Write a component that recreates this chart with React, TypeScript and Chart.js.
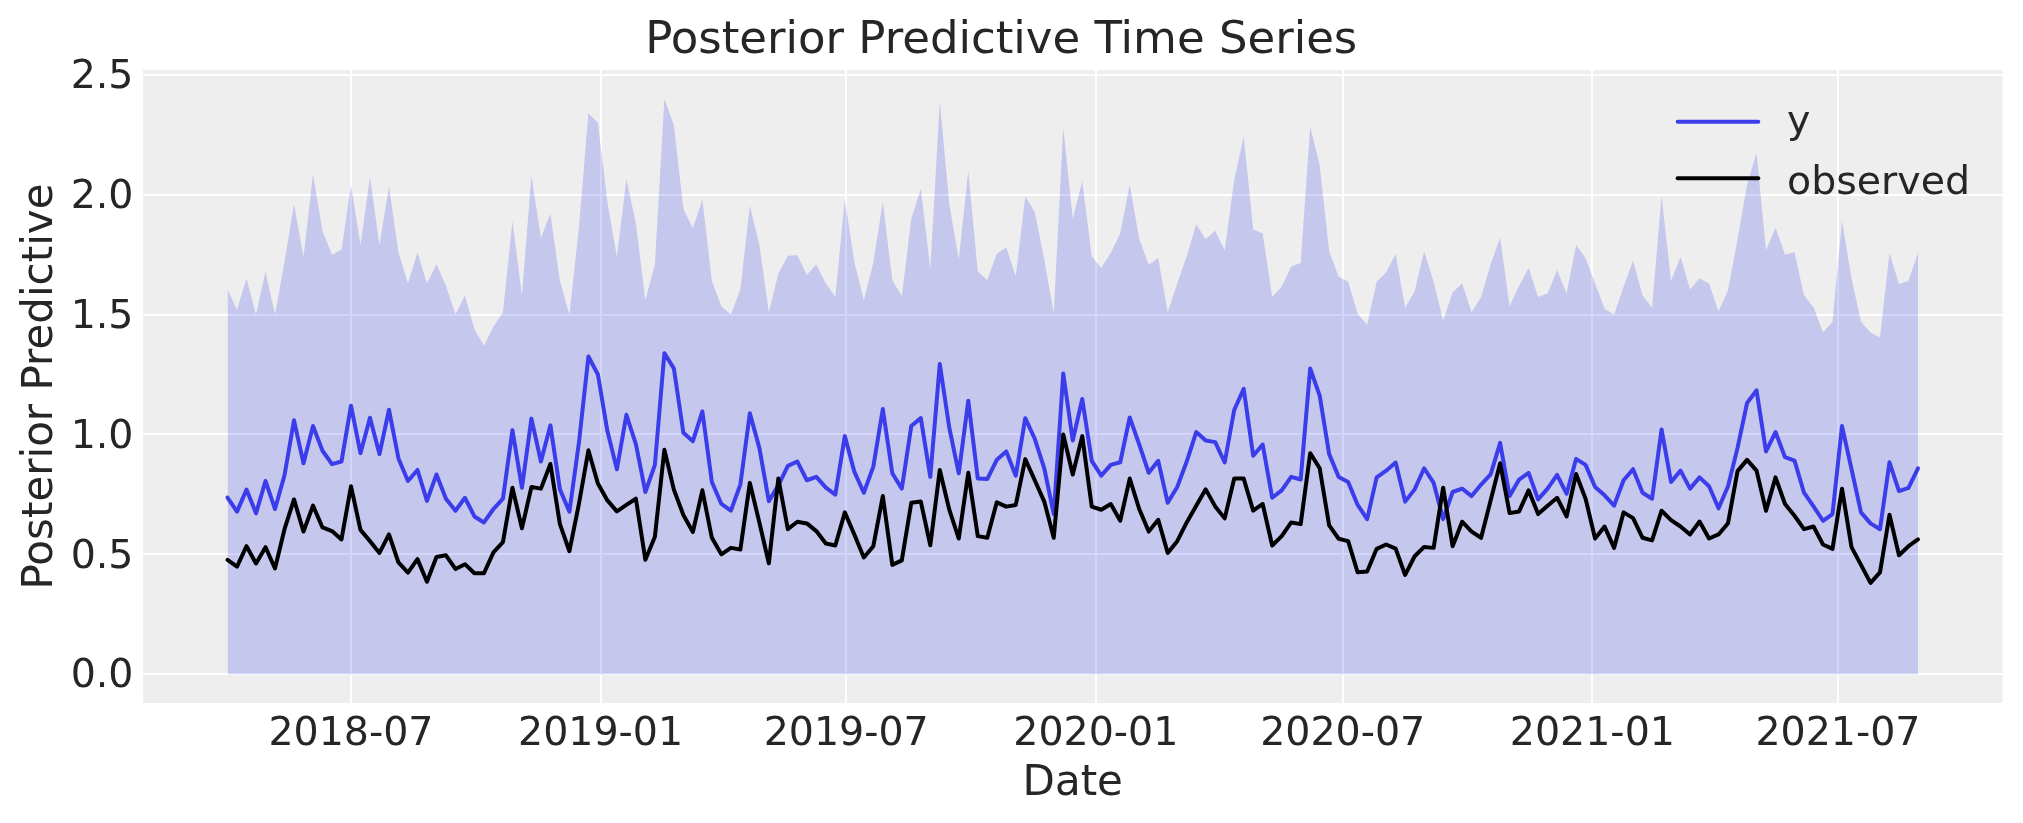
import React, { useEffect, useRef } from "react";
import { Chart, registerables } from "chart.js";

Chart.register(...registerables);

// ---- data ----
const startDate = "2018-04-01"; // first weekly observation
const xTickLabels = ["2018-07", "2019-01", "2019-07", "2020-01", "2020-07", "2021-01", "2021-07"];
const yTickValues = [0, 0.5, 1.0, 1.5, 2.0, 2.5];

const hdiUpper = [
  1.605, 1.52, 1.65, 1.5, 1.68, 1.5, 1.72, 1.96, 1.74, 2.085,
  1.85, 1.75, 1.77, 2.04, 1.79, 2.075, 1.79, 2.035, 1.76, 1.63,
  1.76, 1.63, 1.71, 1.62, 1.5, 1.58, 1.44, 1.37, 1.45, 1.51,
  1.89, 1.58, 2.08, 1.82, 1.92, 1.64, 1.5, 1.86, 2.34, 2.3,
  1.97, 1.74, 2.065, 1.88, 1.56, 1.71, 2.4, 2.29, 1.94, 1.86,
  1.98, 1.64, 1.535, 1.5, 1.605, 1.955, 1.79, 1.51, 1.67, 1.745,
  1.747, 1.665, 1.71, 1.63, 1.574, 1.98, 1.72, 1.56, 1.717, 1.97,
  1.644, 1.576, 1.9, 2.025, 1.69, 2.39, 1.96, 1.73, 2.1, 1.68,
  1.644, 1.754, 1.78, 1.66, 1.994, 1.927, 1.73, 1.507, 2.28, 1.9,
  2.056, 1.743, 1.694, 1.757, 1.838, 2.042, 1.816, 1.708, 1.736, 1.51,
  1.63, 1.743, 1.877, 1.814, 1.85, 1.768, 2.06, 2.244, 1.856, 1.838,
  1.573, 1.616, 1.7, 1.715, 2.282, 2.124, 1.764, 1.658, 1.637, 1.503,
  1.458, 1.637, 1.677, 1.753, 1.528, 1.597, 1.764, 1.637, 1.475, 1.592,
  1.631, 1.51, 1.573, 1.71, 1.82, 1.535, 1.62, 1.694, 1.573, 1.588,
  1.686, 1.588, 1.79, 1.736, 1.63, 1.524, 1.5, 1.616, 1.725, 1.58,
  1.528, 1.994, 1.641, 1.74, 1.605, 1.651, 1.63, 1.513, 1.602, 1.814,
  2.04, 2.174, 1.768, 1.863, 1.75, 1.76, 1.58, 1.531, 1.425, 1.47,
  1.891, 1.651, 1.47, 1.425, 1.404, 1.757, 1.627, 1.64, 1.757,
];

const yMean = [
  0.737, 0.678, 0.77, 0.671, 0.806, 0.689, 0.83, 1.059, 0.88, 1.035,
  0.932, 0.876, 0.887, 1.12, 0.922, 1.07, 0.918, 1.103, 0.9, 0.806,
  0.852, 0.723, 0.833, 0.732, 0.682, 0.736, 0.658, 0.633, 0.689, 0.732,
  1.018, 0.778, 1.066, 0.887, 1.038, 0.771, 0.678, 0.965, 1.325, 1.25,
  1.014, 0.855, 1.082, 0.96, 0.76, 0.873, 1.339, 1.275, 1.007, 0.972,
  1.096, 0.802, 0.71, 0.682, 0.791, 1.088, 0.944, 0.722, 0.788, 0.869,
  0.887, 0.809, 0.823, 0.778, 0.749, 0.993, 0.845, 0.757, 0.866, 1.106,
  0.838, 0.774, 1.035, 1.068, 0.823, 1.294, 1.028, 0.838, 1.141, 0.816,
  0.814, 0.894, 0.929, 0.828, 1.068, 0.982, 0.859, 0.668, 1.254, 0.975,
  1.148, 0.89, 0.828, 0.873, 0.884, 1.071, 0.958, 0.84, 0.89, 0.715,
  0.781, 0.887, 1.01, 0.975, 0.968, 0.883, 1.102, 1.19, 0.911, 0.958,
  0.736, 0.767, 0.823, 0.812, 1.275, 1.162, 0.918, 0.823, 0.802, 0.706,
  0.647, 0.821, 0.849, 0.883, 0.72, 0.771, 0.859, 0.798, 0.647, 0.76,
  0.774, 0.743, 0.791, 0.833, 0.965, 0.743, 0.812, 0.84, 0.729, 0.774,
  0.831, 0.753, 0.898, 0.873, 0.781, 0.746, 0.703, 0.809, 0.855, 0.757,
  0.732, 1.021, 0.802, 0.849, 0.774, 0.821, 0.784, 0.692, 0.784, 0.944,
  1.131, 1.184, 0.929, 1.01, 0.905, 0.891, 0.757, 0.7, 0.64, 0.668,
  1.035, 0.856, 0.675, 0.629, 0.605, 0.884, 0.764, 0.777, 0.859,
];

const observed = [
  0.477, 0.449, 0.534, 0.462, 0.53, 0.441, 0.605, 0.729, 0.595, 0.703,
  0.612, 0.597, 0.562, 0.784, 0.602, 0.555, 0.506, 0.583, 0.466, 0.424,
  0.48, 0.386, 0.489, 0.496, 0.439, 0.459, 0.421, 0.421, 0.508, 0.551,
  0.778, 0.609, 0.781, 0.774, 0.877, 0.626, 0.513, 0.71, 0.934, 0.795,
  0.725, 0.679, 0.706, 0.732, 0.477, 0.573, 0.936, 0.77, 0.664, 0.593,
  0.767, 0.569, 0.5, 0.527, 0.52, 0.798, 0.633, 0.463, 0.816, 0.605,
  0.636, 0.629, 0.597, 0.545, 0.537, 0.675, 0.583, 0.487, 0.534, 0.743,
  0.456, 0.475, 0.715, 0.72, 0.538, 0.852, 0.686, 0.566, 0.84, 0.576,
  0.569, 0.717, 0.699, 0.706, 0.897, 0.809, 0.72, 0.569, 1.0, 0.833,
  0.993, 0.699, 0.686, 0.71, 0.64, 0.816, 0.689, 0.595, 0.644, 0.506,
  0.555, 0.633, 0.703, 0.771, 0.7, 0.65, 0.816, 0.816, 0.682, 0.71,
  0.537, 0.576, 0.633, 0.626, 0.922, 0.859, 0.621, 0.565, 0.555, 0.425,
  0.428, 0.523, 0.541, 0.524, 0.414, 0.492, 0.531, 0.527, 0.778, 0.534,
  0.636, 0.595, 0.569, 0.725, 0.88, 0.672, 0.679, 0.767, 0.668, 0.703,
  0.736, 0.658, 0.835, 0.732, 0.566, 0.616, 0.527, 0.675, 0.651, 0.569,
  0.558, 0.682, 0.643, 0.616, 0.583, 0.637, 0.566, 0.583, 0.63, 0.847,
  0.894, 0.849, 0.682, 0.821, 0.71, 0.661, 0.605, 0.616, 0.541, 0.523,
  0.774, 0.53, 0.456, 0.381, 0.425, 0.665, 0.496, 0.534, 0.562,
];

const legendOrder = ["y", "observed"];

// ---- helpers ----
const DAY_MS = 86400000;
const toDay = (s: string) =>
  Date.UTC(+s.slice(0, 4), +s.slice(5, 7) - 1, s.length > 7 ? +s.slice(8, 10) : 1) / DAY_MS;

const FONT = "'DejaVu Sans', 'Liberation Sans', sans-serif";
const TEXT = "#262626";
const BLUE = "#3b3deb";
const BLACK = "#000000";
const FILL = "rgba(42, 46, 236, 0.2)";
const LINE_W = 4;

export default function App() {
  const canvasRef = useRef<HTMLCanvasElement | null>(null);

  useEffect(() => {
    if (!canvasRef.current) return;
    const start = toDay(startDate);
    const xs = hdiUpper.map((_, i) => start + 7 * i);
    const span = xs[xs.length - 1] - xs[0];
    const xMin = xs[0] - 0.05 * span;
    const xMax = xs[xs.length - 1] + 0.05 * span;
    const yTop = Math.max(...hdiUpper);
    const yMin = -0.05 * yTop;
    const yMax = yTop * 1.05;
    const xTickValues = xTickLabels.map((l) => toDay(l));

    const axesBg = {
      id: "axesBg",
      beforeDraw(chart: any) {
        const { ctx, chartArea } = chart;
        ctx.save();
        ctx.fillStyle = "#eeeeee";
        ctx.fillRect(chartArea.left, chartArea.top, chartArea.right - chartArea.left, chartArea.bottom - chartArea.top);
        ctx.restore();
      },
    };

    const lineLegend = {
      id: "lineLegend",
      afterDraw(chart: any) {
        const { ctx, chartArea } = chart;
        const right = chartArea.right;
        const top = chartArea.top;
        const rowsLine = [51.7, 108.3];
        const rowsText = [63.3, 124.2];
        ctx.save();
        legendOrder.forEach((name, i) => {
          const ds = chart.data.datasets.find((d: any) => d.label === name);
          if (!ds) return;
          ctx.strokeStyle = ds.borderColor;
          ctx.lineWidth = LINE_W;
          ctx.lineCap = "round";
          ctx.beginPath();
          ctx.moveTo(right - 324.8, top + rowsLine[i]);
          ctx.lineTo(right - 244.2, top + rowsLine[i]);
          ctx.stroke();
          ctx.fillStyle = TEXT;
          ctx.font = `39.5px ${FONT}`;
          ctx.textBaseline = "alphabetic";
          ctx.textAlign = "left";
          ctx.fillText(name, right - 215.5, top + rowsText[i]);
        });
        ctx.restore();
      },
    };

    const chart = new Chart(canvasRef.current, {
      type: "line",
      data: {
        datasets: [
          {
            label: "observed",
            data: xs.map((x, i) => ({ x, y: observed[i] })),
            borderColor: BLACK,
            backgroundColor: BLACK,
            borderWidth: LINE_W,
            pointRadius: 0,
            fill: false,
            tension: 0,
            borderCapStyle: "round",
            borderJoinStyle: "round",
          },
          {
            label: "y",
            data: xs.map((x, i) => ({ x, y: yMean[i] })),
            borderColor: BLUE,
            backgroundColor: BLUE,
            borderWidth: LINE_W,
            pointRadius: 0,
            fill: false,
            tension: 0,
            borderCapStyle: "round",
            borderJoinStyle: "round",
          },
          {
            label: "hdi",
            data: xs.map((x, i) => ({ x, y: hdiUpper[i] })),
            borderColor: "rgba(0,0,0,0)",
            backgroundColor: FILL,
            borderWidth: 0,
            pointRadius: 0,
            fill: "origin",
            tension: 0,
          },
        ],
      },
      options: {
        animation: false,
        responsive: true,
        maintainAspectRatio: false,
        layout: { padding: { left: 0, top: 0, right: 20.5, bottom: 0 } },
        plugins: {
          legend: { display: false },
          tooltip: { enabled: false },
          title: {
            display: true,
            text: "Posterior Predictive Time Series",
            color: TEXT,
            font: { family: FONT, size: 45, weight: "normal" },
            padding: { top: 14.8, bottom: 1.2 },
          },
        },
        scales: {
          x: {
            type: "linear",
            min: xMin,
            max: xMax,
            afterBuildTicks: (scale: any) => {
              scale.ticks = xTickValues.map((v) => ({ value: v }));
            },
            afterFit: (scale: any) => {
              scale.height = 120;
            },
            ticks: {
              autoSkip: false,
              maxRotation: 0,
              padding: 8,
              color: TEXT,
              font: { family: FONT, size: 39.5 },
              callback: (_v: any, i: number) => xTickLabels[i],
            },
            grid: { color: "#ffffff", lineWidth: 2, drawTicks: false },
            border: { display: false },
            title: {
              display: true,
              text: "Date",
              color: TEXT,
              font: { family: FONT, size: 42 },
              padding: { top: 0, bottom: 14.1 },
            },
          },
          y: {
            type: "linear",
            min: yMin,
            max: yMax,
            afterBuildTicks: (scale: any) => {
              scale.ticks = yTickValues.map((v) => ({ value: v }));
            },
            afterFit: (scale: any) => {
              scale.width = 143;
            },
            ticks: {
              padding: 9.5,
              labelOffset: 3,
              color: TEXT,
              font: { family: FONT, size: 39.5 },
              callback: (v: any) => Number(v).toFixed(1),
            },
            grid: { color: "#ffffff", lineWidth: 2, drawTicks: false },
            border: { display: false },
            title: {
              display: true,
              text: "Posterior Predictive",
              color: TEXT,
              font: { family: FONT, size: 42 },
              padding: { top: 16, bottom: 0 },
            },
          },
        },
      },
      plugins: [axesBg, lineLegend],
    } as any);

    return () => chart.destroy();
  }, []);

  return (
    <div style={{ position: "fixed", left: 0, top: 0, width: 2023, height: 823, background: "#ffffff" }}>
      <canvas ref={canvasRef} />
    </div>
  );
}
